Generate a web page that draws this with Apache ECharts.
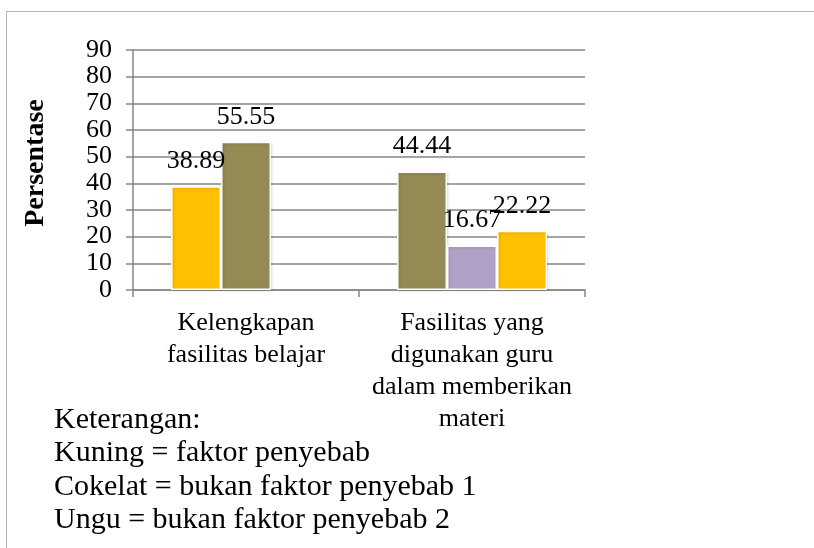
<!DOCTYPE html>
<html>
<head>
<meta charset="utf-8">
<script src="https://cdn.jsdelivr.net/npm/echarts@6/dist/echarts.min.js"></script>
<style>
  html, body { margin: 0; padding: 0; background: #fff; }
  #chart { width: 814px; height: 548px; }
  .frame {
    position: absolute;
    left: 6px;
    top: 11px;
    right: 0;
    bottom: 0;
    border-top: 1.5px solid #b4b4b4;
    border-left: 1.5px solid #b4b4b4;
    pointer-events: none;
  }
</style>
</head>
<body>
<div id="chart"></div>
<div class="frame"></div>
<script>
// kategori (sumbu x)
const categories = [
  'Kelengkapan\nfasilitas belajar',
  'Fasilitas yang\ndigunakan guru\ndalam memberikan\nmateri'
];

// nilai per posisi batang dalam tiap kategori
const slot1Values = [38.89, 44.44];
const slot2Values = [55.55, 16.67];
const slot3Values = [null, 22.22];

// jenis tiap batang (kuning / cokelat / ungu)
const slot1Kinds = ['kuning', 'cokelat'];
const slot2Kinds = ['cokelat', 'ungu'];
const slot3Kinds = [null, 'kuning'];

const yTicks = [0, 10, 20, 30, 40, 50, 60, 70, 80, 90];

const keterangan = [
  'Keterangan:',
  'Kuning = faktor penyebab',
  'Cokelat = bukan faktor penyebab 1',
  'Ungu = bukan faktor penyebab 2'
];

const kindColor = {
  kuning: '#FFC000',
  cokelat: '#948A54',
  ungu: '#B2A1C7'
};

const serif = '"Liberation Serif", "Times New Roman", serif';

const makeSeries = (values, kinds) => ({
  type: 'bar',
  barWidth: 50,
  barGap: '0%',
  barCategoryGap: '33.6%',
  data: values.map((v, i) => ({
    value: v,
    itemStyle: { color: kinds[i] ? kindColor[kinds[i]] : 'transparent' }
  })),
  itemStyle: {
    borderColor: '#ffffff',
    borderWidth: 1.5,
    shadowColor: 'rgba(0,0,0,0.15)',
    shadowBlur: 3,
    shadowOffsetX: 1,
    shadowOffsetY: 1
  },
  label: {
    show: true,
    position: 'top',
    distance: 12,
    fontFamily: serif,
    fontSize: 26,
    color: '#000'
  },
  animation: false
});

const chart = echarts.init(document.getElementById('chart'));

chart.setOption({
  backgroundColor: '#fff',
  animation: false,
  grid: {
    left: 133,
    right: 229,
    top: 50,
    bottom: 258,
    containLabel: false
  },
  xAxis: {
    type: 'category',
    data: categories,
    axisLine: { lineStyle: { color: '#868686', width: 1.5 } },
    axisTick: { show: true, length: 7, lineStyle: { color: '#868686', width: 1.5 } },
    axisLabel: {
      margin: 17,
      fontFamily: serif,
      fontSize: 26,
      lineHeight: 32,
      color: '#000',
      interval: 0
    }
  },
  yAxis: {
    type: 'value',
    min: yTicks[0],
    max: yTicks[yTicks.length - 1],
    interval: 10,
    axisLine: { show: true, lineStyle: { color: '#868686', width: 1.5 } },
    axisTick: { show: true, length: 7, lineStyle: { color: '#868686', width: 1.5 } },
    axisLabel: {
      margin: 21,
      fontFamily: serif,
      fontSize: 26,
      color: '#000'
    },
    splitLine: { lineStyle: { color: '#868686', width: 1.5 } }
  },
  series: [
    makeSeries(slot1Values, slot1Kinds),
    makeSeries(slot2Values, slot2Kinds),
    makeSeries(slot3Values, slot3Kinds)
  ],
  graphic: [
    {
      type: 'text',
      x: 36,
      y: 163,
      rotation: Math.PI / 2,
      style: {
        text: 'Persentase',
        fontFamily: serif,
        fontWeight: 'bold',
        fontSize: 28,
        fill: '#000',
        textAlign: 'center',
        textVerticalAlign: 'middle'
      }
    },
    {
      type: 'text',
      left: 54,
      top: 403,
      style: {
        text: keterangan.join('\n'),
        fontFamily: serif,
        fontSize: 30,
        lineHeight: 33.5,
        fill: '#000'
      }
    }
  ]
});
</script>
</body>
</html>
